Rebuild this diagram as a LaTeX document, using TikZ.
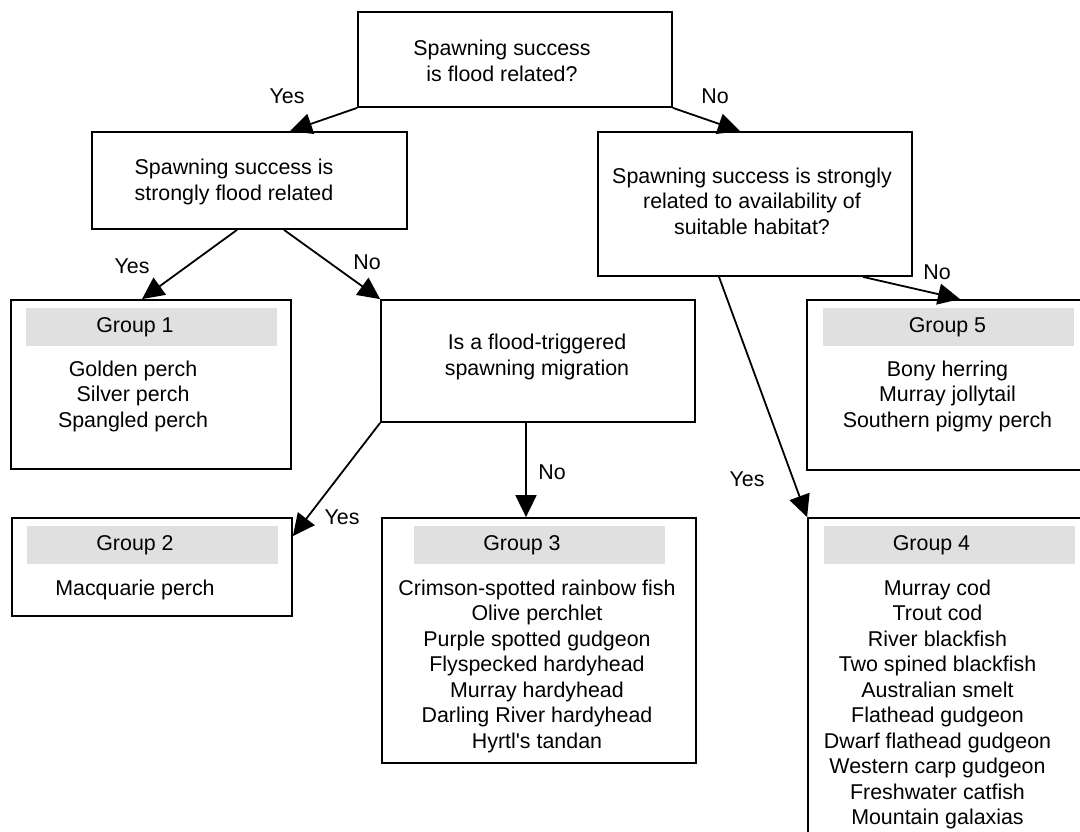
\documentclass[tikz,border=0pt]{standalone}
\usepackage{fontspec}
\setmainfont{Liberation Sans}
\usetikzlibrary{arrows.meta,positioning}
\definecolor{bandgray}{RGB}{224,224,224}

\begin{document}
\begin{tikzpicture}[x=1pt, y=-1pt, font=\fontsize{21.4}{25.5}\selectfont,
    box/.style={draw, line width=1.8pt, inner sep=0pt},
    band/.style={fill=bandgray, minimum width=251pt, minimum height=38pt, inner sep=0pt},
    txt/.style={align=center, inner sep=0pt},
    arr/.style={line width=1.8pt, -{Triangle[length=22pt,width=21pt]}}]

    %% Fish spawning decision tree

    \newcommand{\grouphead}[3]{
        \node[band, below=9pt of #1.north] (#1band) {};
        \node[txt, xshift=#2pt] (#1head) at (#1band) {#3};
    }

    \useasboundingbox (0,0) rectangle (1080,832);
    \clip (0,0) rectangle (1080,832);

    % Questions
    \node[box, minimum width=314pt, minimum height=95pt] (flood) at (515,59.5) {};
    \node[txt] (floodtext) at (502,61) {Spawning success\\is flood related?};

    \node[box, minimum width=315pt, minimum height=97pt] (strong) at (249.5,180.5) {};
    \node[txt] (strongtext) at (234,182) {Spawning success is\\strongly flood related};

    \node[box, minimum width=314pt, minimum height=144pt] (habitat) at (755,204) {};
    \node[txt] (habitattext) at (752,201) {Spawning success is strongly\\related to availability of\\suitable habitat?};

    \node[box, minimum width=314pt, minimum height=122pt] (migration) at (538,361) {};
    \node[txt] (migrationtext) at (537,357) {Is a flood-triggered\\spawning migration};

    % Groups
    \node[box, minimum width=280pt, minimum height=169pt] (group1) at (151,384.5) {};
    \grouphead{group1}{-16}{Group 1}
    \node[txt] (group1fish) at (133,396) {Golden perch\\Silver perch\\Spangled perch};

    \node[box, minimum width=280pt, minimum height=98pt] (group2) at (152,567) {};
    \grouphead{group2}{-17}{Group 2}
    \node[txt] (group2fish) at (135,590) {Macquarie perch};

    \node[box, minimum width=314pt, minimum height=245pt] (group3) at (539,640.5) {};
    \grouphead{group3}{-17}{Group 3}
    \node[txt] (group3fish) at (537,666) {Crimson-spotted rainbow fish\\Olive perchlet\\Purple spotted gudgeon\\Flyspecked hardyhead\\Murray hardyhead\\Darling River hardyhead\\Hyrtl\textquotesingle s tandan};

    \node[box, minimum width=283pt, minimum height=382pt] (group4) at (949.5,709) {};
    \grouphead{group4}{-18}{Group 4}
    \node[txt] (group4fish) at (937.5,704.5) {Murray cod\\Trout cod\\River blackfish\\Two spined blackfish\\Australian smelt\\Flathead gudgeon\\Dwarf flathead gudgeon\\Western carp gudgeon\\Freshwater catfish\\Mountain galaxias};

    \node[box, minimum width=283pt, minimum height=170pt] (group5) at (948.5,385) {};
    \grouphead{group5}{-1}{Group 5}
    \node[txt] (group5fish) at (947.5,396) {Bony herring\\Murray jollytail\\Southern pigmy perch};

    % Arrows
    \draw[arr] (flood.south west) -- ([xshift=40.5pt]strong.north);
    \draw[arr] (flood.south east) -- ([xshift=-15pt]habitat.north);
    \draw[arr] ([xshift=-12.5pt]strong.south) -- ([xshift=-9pt]group1.north);
    \draw[arr] ([xshift=34.5pt]strong.south) -- (migration.north west);
    \draw[arr] (migration.south west) -- ([yshift=-19pt]group2.north east);
    \draw[arr] ([xshift=-12pt]migration.south) -- ([xshift=-12pt]migration.south |- group3.north);
    \draw[arr] ([xshift=-36pt]habitat.south) -- (group4.north west);
    \draw[arr] ([xshift=108pt]habitat.south) -- ([xshift=11.5pt]group5.north);

    % Labels
    \node[txt] (yes1) at (287,96) {Yes};
    \node[txt] (no1) at (715,96) {No};
    \node[txt] (yes2) at (132,266) {Yes};
    \node[txt] (no2) at (367,262) {No};
    \node[txt] (yes3) at (342,517) {Yes};
    \node[txt] (no3) at (552,472) {No};
    \node[txt] (yes4) at (747,479) {Yes};
    \node[txt] (no4) at (937,272) {No};

\end{tikzpicture}
\end{document}
